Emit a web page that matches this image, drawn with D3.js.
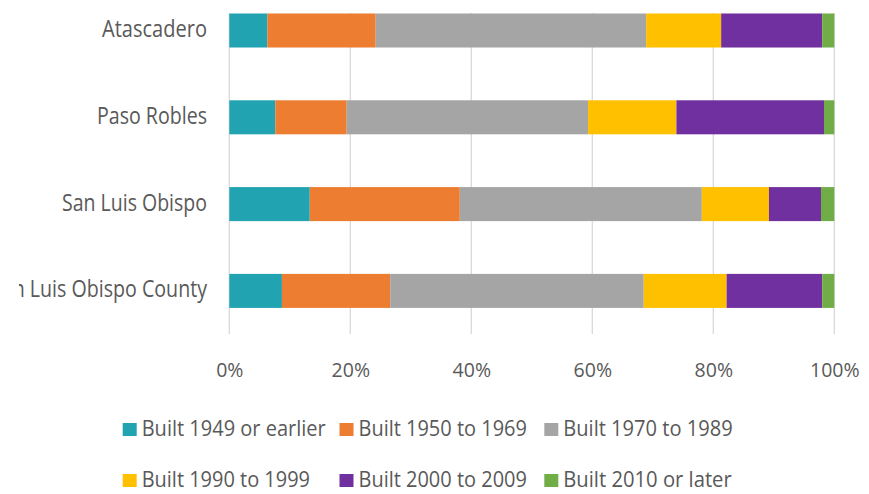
<!DOCTYPE html>
<html>
<head>
<meta charset="utf-8">
<script src="https://cdn.jsdelivr.net/npm/d3@7"></script>
<style>
  html, body { margin: 0; padding: 0; background: #ffffff; }
  svg { display: block; }
  text { font-family: "Open Sans", "Liberation Sans", sans-serif; fill: #595959; }
</style>
</head>
<body>
<svg id="chart" width="869" height="494"></svg>
<script>
// Housing stock by year built, share of units per place
const places = ["Atascadero", "Paso Robles", "San Luis Obispo", "San Luis Obispo County"];
const seriesNames = [
  "Built 1949 or earlier", "Built 1950 to 1969", "Built 1970 to 1989",
  "Built 1990 to 1999", "Built 2000 to 2009", "Built 2010 or later"
];
const built1949 = [6.3, 7.6, 13.3, 8.7];
const built1950 = [17.9, 11.8, 24.8, 17.9];
const built1970 = [44.7, 39.9, 40.0, 41.9];
const built1990 = [12.4, 14.6, 11.1, 13.7];
const built2000 = [16.7, 24.4, 8.6, 15.8];
const built2010 = [2.0, 1.7, 2.2, 2.0];
const xTicks = [0, 20, 40, 60, 80, 100];
const seriesColors = ["#22A3B1", "#ED7D31", "#A5A5A5", "#FFC000", "#7030A0", "#70AD47"];

const seriesValues = [built1949, built1950, built1970, built1990, built2000, built2010];
const rows = places.map((p, i) => {
  const r = { place: p };
  seriesNames.forEach((s, k) => { r[s] = seriesValues[k][i]; });
  return r;
});

const svg = d3.select("#chart");

// Layout
const x0 = 229.3, x1 = 834.3;
const gridTop = 13, gridBottom = 334;

const x = d3.scaleLinear().domain([0, 100]).range([x0, x1]);
const y = d3.scaleBand().domain(places).range([-12.9, 334.3])
  .paddingInner(0.608).paddingOuter(0.304);
const color = d3.scaleOrdinal().domain(seriesNames).range(seriesColors);

// Normalise each row to 100% so bars fill the full width
const stack = d3.stack().keys(seriesNames).offset(d3.stackOffsetExpand);
const stacked = stack(rows);

// Gridlines
svg.append("g").selectAll("line").data(xTicks).join("line")
  .attr("x1", d => x(d)).attr("x2", d => x(d))
  .attr("y1", gridTop).attr("y2", gridBottom)
  .attr("stroke", "#D9D9D9").attr("stroke-width", 1.3);

// Bars
svg.append("g").selectAll("g").data(stacked).join("g")
  .attr("fill", d => color(d.key))
  .selectAll("rect").data(d => d).join("rect")
  .attr("x", d => x(d[0] * 100))
  .attr("width", d => x(d[1] * 100) - x(d[0] * 100))
  .attr("y", d => y(d.data.place))
  .attr("height", y.bandwidth());

// Category labels (left side is clipped at the chart edge)
svg.append("defs").append("clipPath").attr("id", "labelClip")
  .append("rect").attr("x", 19).attr("y", 0).attr("width", 200).attr("height", 340);

const labelWidths = { "Atascadero": 105, "Paso Robles": 110, "San Luis Obispo": 145, "San Luis Obispo County": 216 };
svg.append("g").attr("clip-path", "url(#labelClip)")
  .selectAll("text").data(places).join("text")
  .attr("x", 207)
  .attr("y", d => y(d) + y.bandwidth() / 2 + 6.5)
  .attr("text-anchor", "end")
  .attr("font-size", 24)
  .attr("textLength", d => labelWidths[d])
  .attr("lengthAdjust", "spacingAndGlyphs")
  .text(d => d);

// X axis tick labels
const xAxis = d3.axisBottom(x).tickValues(xTicks).tickFormat(d => d + "%").tickSize(0);
const ax = svg.append("g").attr("transform", `translate(0,${gridBottom})`).call(xAxis);
ax.select(".domain").remove();
ax.selectAll("text")
  .attr("y", 42.7).attr("dy", null)
  .attr("font-size", 19.5)
  .style("font-family", "'Open Sans', sans-serif")
  .attr("fill", "#595959");

// Legend
const legendCols = [122.7, 339.5, 544.3];
const legendRows = [436, 487];
const legendWidths = [184, 168.4, 169.4, 168.3, 168.4, 168.4];
const lg = svg.append("g").selectAll("g").data(seriesNames).join("g")
  .attr("transform", (d, i) => `translate(${legendCols[i % 3]},${legendRows[Math.floor(i / 3)]})`);
lg.append("rect")
  .attr("x", 0).attr("y", -13).attr("width", 14).attr("height", 13)
  .attr("fill", d => color(d));
lg.append("text")
  .attr("x", 19).attr("y", 0)
  .attr("font-size", 21.5)
  .attr("textLength", (d, i) => legendWidths[i])
  .attr("lengthAdjust", "spacingAndGlyphs")
  .text(d => d);
</script>
</body>
</html>
